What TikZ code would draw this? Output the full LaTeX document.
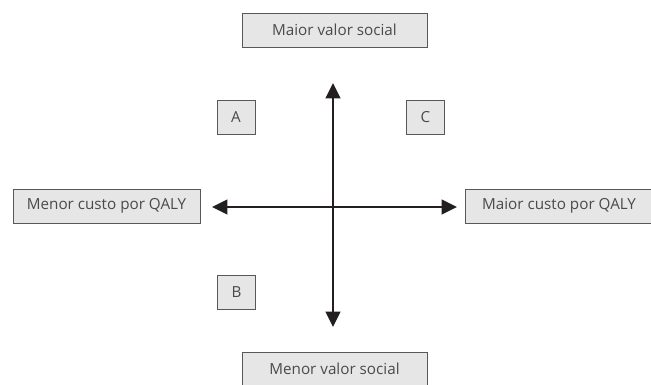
\documentclass[tikz,border=0pt]{standalone}
\usepackage{fontspec}
\setmainfont{Open Sans}
\usepackage{tikz}
\usetikzlibrary{arrows.meta}
\definecolor{boxfill}{HTML}{E6E6E7}
\definecolor{boxline}{HTML}{58585A}
\definecolor{txt}{HTML}{4A4A4C}
\definecolor{axis}{HTML}{231F20}
\tikzset{
  lblbox/.style={draw=boxline, fill=boxfill, line width=0.7pt, text=txt,
    font=\fontsize{13}{15}\selectfont, minimum width=5.55cm, minimum height=1.02cm, inner sep=0pt},
  sidebox/.style={lblbox, minimum width=5.61cm},
  letterbox/.style={lblbox, minimum width=1.14cm},
  axisline/.style={draw=axis, line width=1.5pt, {Triangle[length=0.46cm,width=0.44cm]}-{Triangle[length=0.46cm,width=0.44cm]}}
}

\begin{document}
\begin{tikzpicture}[x=0.03cm, y=-0.03cm]
  \useasboundingbox (0,0) rectangle (651,384);

  \coordinate (up) at (333,83);
  \coordinate (down) at (333,327);
  \coordinate (left) at (212,207);
  \coordinate (right) at (457,207);

  \draw[axisline] (down) -- (up);
  \draw[axisline] (left) -- (right);

  \node[lblbox] (top) at (334.5,30) {Maior valor social};
  \node[lblbox] (bottom) at (334.5,369) {Menor valor social};
  \node[sidebox] (west) at (106.5,206) {Menor custo por QALY};
  \node[sidebox] (east) at (559,206) {Maior custo por QALY};

  \node[letterbox] (A) at (236,117) {A};
  \node[letterbox] (C) at (425.5,117) {C};
  \node[letterbox] (B) at (236.5,292.5) {B};
\end{tikzpicture}
\end{document}
